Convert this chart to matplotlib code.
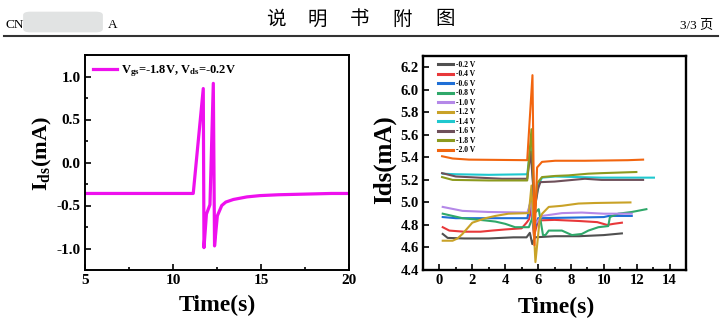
import matplotlib
matplotlib.use("Agg")
import matplotlib.pyplot as plt
from matplotlib.patches import FancyBboxPatch
from matplotlib.lines import Line2D

# ---------------- data ----------------
# left panel: single pulse response
t_left = [5, 11.15, 11.72, 11.76, 11.9, 12.1, 12.29, 12.36, 12.52, 12.77, 13.0, 13.43,
          14.2, 14.94, 16, 17, 18, 19, 20]
i_left = [-0.36, -0.36, 0.86, -0.99, -0.60, -0.49, 0.92, -0.97, -0.62, -0.50, -0.46, -0.43,
          -0.40, -0.385, -0.375, -0.37, -0.365, -0.36, -0.36]
left_label = "V$_{gs}$=-1.8V, V$_{ds}$=-0.2V"

# right panel: series for each gate voltage
labels_right = ["-0.2 V", "-0.4 V", "-0.6 V", "-0.8 V", "-1.0 V",
                "-1.2 V", "-1.4 V", "-1.6 V", "-1.8 V", "-2.0 V"]

t_02 = [0.2, 0.5, 1.5, 3, 4.5, 5.3, 5.5, 5.65, 5.8, 7, 8.5, 10, 11.1]
v_02 = [4.72, 4.685, 4.68, 4.68, 4.69, 4.69, 4.73, 4.63, 4.69, 4.70, 4.70, 4.71, 4.725]

t_04 = [0.2, 0.6, 1.5, 2.5, 3.2, 4, 5.0, 5.3, 5.45, 5.6, 5.75, 6.0, 7.0, 8.5, 9.6, 10.2, 10.6, 11.1]
v_04 = [4.78, 4.75, 4.74, 4.74, 4.75, 4.76, 4.77, 4.82, 4.85, 4.95, 4.70, 4.84, 4.845, 4.835,
        4.825, 4.80, 4.81, 4.82]

t_06 = [0.2, 1, 3, 5.35, 5.55, 5.75, 6.0, 8, 10, 10.3, 11.7]
v_06 = [4.87, 4.86, 4.86, 4.86, 5.02, 4.75, 4.86, 4.865, 4.87, 4.88, 4.88]

t_08 = [0.2, 1.4, 2.8, 3.4, 4.0, 4.6, 5.44, 5.75, 6.04, 6.3, 6.45, 6.65, 7.45, 8.06, 8.66,
        9.06, 9.67, 10.27, 10.37, 10.88, 11.7, 12.59]
v_08 = [4.90, 4.86, 4.84, 4.83, 4.81, 4.78, 4.78, 4.90, 4.94, 4.71, 4.71, 4.75, 4.75, 4.71,
        4.72, 4.75, 4.78, 4.79, 4.87, 4.90, 4.915, 4.94]

t_10 = [0.2, 1.4, 3, 5.35, 5.55, 5.75, 6.25, 7.45, 8.66, 10, 11.7]
v_10 = [4.96, 4.925, 4.915, 4.91, 5.00, 4.80, 4.88, 4.905, 4.91, 4.90, 4.90]

t_12 = [0.2, 0.8, 1.1, 1.4, 2.0, 2.8, 3.4, 4.2, 5.44, 5.6, 5.84, 6.1, 6.25, 6.65, 7.45,
        8.46, 9.47, 11.62]
v_12 = [4.66, 4.66, 4.68, 4.72, 4.82, 4.86, 4.88, 4.90, 4.905, 5.15, 4.47, 4.85, 4.90,
        4.96, 4.97, 4.99, 4.995, 5.00]

t_14 = [0.2, 1, 3, 5.34, 5.55, 5.8, 6.0, 6.24, 7.04, 9.86, 13.05]
v_14 = [5.255, 5.25, 5.245, 5.25, 5.50, 4.95, 5.15, 5.22, 5.23, 5.22, 5.22]

t_16 = [0.16, 1.0, 3.8, 5.34, 5.55, 5.8, 6.0, 6.14, 7.0, 8.85, 9.86, 12.39]
v_16 = [5.26, 5.23, 5.21, 5.21, 5.45, 4.95, 5.12, 5.18, 5.185, 5.21, 5.20, 5.20]

t_18 = [0.16, 0.8, 3, 5.34, 5.6, 5.8, 5.94, 6.24, 7.04, 7.85, 9.05, 9.86, 11.98]
v_18 = [5.225, 5.20, 5.195, 5.195, 5.65, 4.90, 5.17, 5.225, 5.235, 5.24, 5.255, 5.26, 5.27]

t_20 = [0.16, 0.8, 1.8, 5.34, 5.66, 5.78, 5.94, 6.24, 7.04, 8.85, 11.47, 12.39]
v_20 = [5.41, 5.39, 5.38, 5.375, 6.13, 4.62, 5.31, 5.36, 5.37, 5.37, 5.375, 5.38]

times_right = [t_02, t_04, t_06, t_08, t_10, t_12, t_14, t_16, t_18, t_20]
values_right = [v_02, v_04, v_06, v_08, v_10, v_12, v_14, v_16, v_18, v_20]
colors_right = ["#505050", "#e8383a", "#1f6fd6", "#2fa86a", "#b488e8",
                "#c9a227", "#1fc8cf", "#6e505a", "#8c9a1e", "#f2650f"]

left_xticks = [5, 10, 15, 20]
left_yticks = [-1.0, -0.5, 0.0, 0.5, 1.0]
right_xticks = [0, 2, 4, 6, 8, 10, 12, 14]
right_yticks = [4.4, 4.6, 4.8, 5.0, 5.2, 5.4, 5.6, 5.8, 6.0, 6.2]

# ---------------- style ----------------
plt.rcParams["font.family"] = ["Liberation Serif", "DejaVu Serif"]
plt.rcParams["font.weight"] = "bold"
plt.rcParams["axes.unicode_minus"] = False
plt.rcParams["mathtext.fontset"] = "custom"
plt.rcParams["mathtext.rm"] = "Liberation Serif:bold"
plt.rcParams["mathtext.it"] = "Liberation Serif:bold"
plt.rcParams["mathtext.bf"] = "Liberation Serif:bold"
plt.rcParams["mathtext.default"] = "rm"

W, H = 720, 332
fig = plt.figure(figsize=(7.2, 3.32), dpi=100)


def fx(px):
    return px / W


def fy(py):
    return 1 - py / H


# ---------------- header ----------------
fig.text(fx(5), fy(25), "CN", fontsize=9.5, fontweight="normal", ha="left", va="center",
         family=["Liberation Serif"])
fig.patches.append(FancyBboxPatch((fx(26), fy(31)), fx(74), 18 / H,
                                  boxstyle="round,pad=0.004,rounding_size=0.01",
                                  transform=fig.transFigure, facecolor="#e1e3e3",
                                  edgecolor="none", figure=fig))
fig.text(fx(108), fy(25), "A", fontsize=9.5, fontweight="normal", ha="left", va="center",
         family=["Liberation Serif"])
for ch, cx in zip("说明书附图", [276, 317, 360, 402, 445]):
    fig.text(fx(cx), fy(19), ch, fontsize=14, fontweight="normal", ha="center", va="center",
             family=["Noto Sans CJK SC", "DejaVu Sans"])
fig.text(fx(713), fy(26), "3/3 页", fontsize=9.5, fontweight="normal", ha="right",
         va="center", family=["Liberation Serif", "Noto Sans CJK SC"])
fig.add_artist(Line2D([fx(4), fx(718)], [fy(36), fy(36)], transform=fig.transFigure,
                      color="#333333", lw=1.5))

# ---------------- left panel ----------------
axL = fig.add_axes([fx(85), fy(270), fx(349) - fx(85), (270 - 55) / H])
axL.plot(t_left, i_left, color="#ee10ee", lw=2.3, label=left_label)
axL.set_xlim(5, 20)
axL.set_ylim(-1.25, 1.25)
axL.set_xticks(left_xticks)
axL.set_xticklabels([str(v) for v in left_xticks])
axL.set_yticks(left_yticks)
axL.set_yticklabels([f"{v:.1f}" for v in left_yticks])
axL.set_xticks([7.5, 12.5, 17.5], minor=True)
axL.set_yticks([-1.25, -0.75, -0.25, 0.25, 0.75, 1.25], minor=True)
axL.tick_params(which="both", direction="in", width=1.2, labelsize=11, pad=3)
axL.tick_params(which="major", length=4)
axL.tick_params(which="minor", length=2.5)
for s in axL.spines.values():
    s.set_linewidth(1.4)
leg = axL.legend(loc="upper left", frameon=False, fontsize=9, handlelength=1.9,
                 handletextpad=0.3, borderaxespad=0.3, borderpad=0.35)
fig.text(fx(42), fy(154), "I$_{ds}$(mA)", rotation=90, fontsize=16, ha="center",
         va="center")
fig.text(fx(217), fy(305), "Time(s)", fontsize=17, ha="center", va="center")

# ---------------- right panel ----------------
axR = fig.add_axes([fx(423), fy(270), fx(686) - fx(423), (270 - 56) / H])
for t, v, c, lab in zip(times_right, values_right, colors_right, labels_right):
    axR.plot(t, v, color=c, lw=1.5, label=lab)
axR.set_xlim(-1, 14.9)
axR.set_ylim(4.4, 6.3)
axR.set_xticks(right_xticks)
axR.set_xticklabels([str(v) for v in right_xticks])
axR.set_yticks(right_yticks)
axR.set_yticklabels([f"{v:.1f}" for v in right_yticks])
axR.set_xticks([v + 1 for v in [-2] + right_xticks], minor=True)
axR.tick_params(which="both", direction="in", width=1.2, labelsize=10.5, pad=3)
axR.tick_params(which="major", length=4)
axR.tick_params(which="minor", length=2.5)
for s in axR.spines.values():
    s.set_linewidth(1.7)
legR = axR.legend(loc="upper left", bbox_to_anchor=(0.057, 0.978), frameon=False,
                  fontsize=5.5, handlelength=1.9, handletextpad=0.4, labelspacing=0.2,
                  borderaxespad=0, borderpad=0)
for h in legR.get_lines():
    h.set_linewidth(2.2)
fig.text(fx(384), fy(160), "Ids(mA)", rotation=90, fontsize=18, ha="center", va="center")
fig.text(fx(556), fy(307), "Time(s)", fontsize=17, ha="center", va="center")

fig.savefig("out.png", dpi=100)
